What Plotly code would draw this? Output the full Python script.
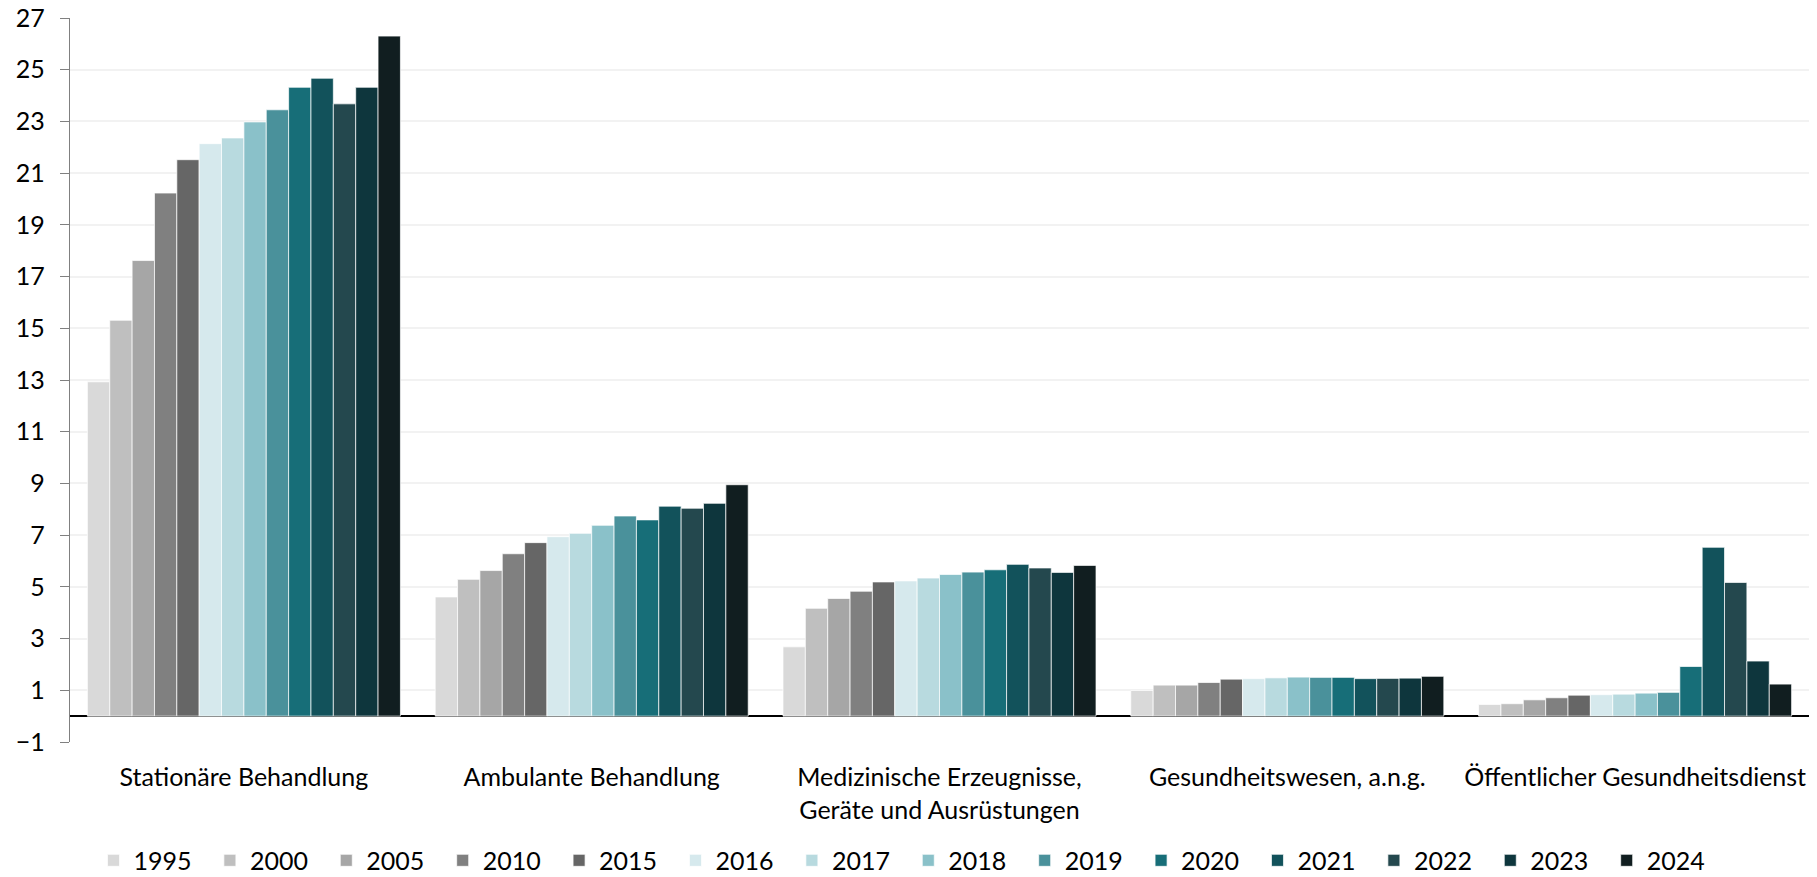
import plotly.graph_objects as go

categories = [
    "Stationäre Behandlung",
    "Ambulante Behandlung",
    "Medizinische Erzeugnisse,<br>Geräte und Ausrüstungen",
    "Gesundheitswesen, a.n.g.",
    "Öffentlicher Gesundheitsdienst",
]

years = ["1995", "2000", "2005", "2010", "2015", "2016", "2017",
         "2018", "2019", "2020", "2021", "2022", "2023", "2024"]

colors = ["#d9d9d9", "#bfbfbf", "#a6a6a6", "#808080", "#666666",
          "#d6e9ed", "#b8dadf", "#8ac1c9", "#4a919b", "#176e78",
          "#12525b", "#24484e", "#0e363d", "#111e20"]

stationaer = [12.93, 15.31, 17.62, 20.23, 21.52, 22.14, 22.36, 22.98, 23.45, 24.32, 24.67, 23.68, 24.32, 26.30]
ambulant = [4.61, 5.29, 5.63, 6.28, 6.71, 6.94, 7.07, 7.38, 7.74, 7.59, 8.12, 8.04, 8.23, 8.95]
medizinisch = [2.68, 4.17, 4.55, 4.83, 5.19, 5.23, 5.34, 5.48, 5.57, 5.66, 5.87, 5.73, 5.56, 5.83]
gesundheitswesen = [0.99, 1.20, 1.20, 1.30, 1.43, 1.45, 1.48, 1.51, 1.50, 1.50, 1.45, 1.46, 1.47, 1.54]
oeffentlich = [0.45, 0.48, 0.63, 0.71, 0.81, 0.83, 0.85, 0.89, 0.92, 1.92, 6.53, 5.17, 2.13, 1.24]

series = [stationaer, ambulant, medizinisch, gesundheitswesen, oeffentlich]

FONT = "Lato"
FS = 25

fig = go.Figure()
for i, (year, color) in enumerate(zip(years, colors)):
    fig.add_trace(go.Bar(
        name=year,
        x=categories,
        y=[s[i] for s in series],
        marker=dict(color=color, line=dict(color="rgba(255,255,255,0.7)", width=1)),
    ))

fig.update_layout(
    width=1817, height=877,
    barmode="group",
    bargap=0.1,
    bargroupgap=0,
    plot_bgcolor="white",
    paper_bgcolor="white",
    margin=dict(l=70, r=8, t=18, b=135, autoexpand=False),
    font=dict(family=FONT, color="#000000", size=FS),
    legend=dict(
        orientation="h",
        x=0.0135, xanchor="left",
        y=-0.132, yanchor="top",
        entrywidth=71.4,
        font=dict(family=FONT, size=FS, color="#000000"),
        itemwidth=30,
        traceorder="normal",
    ),
    xaxis=dict(
        showline=False,
        showgrid=False,
        ticks="",
        tickfont=dict(family=FONT, size=FS, color="#000000"),
        ticklabelstandoff=18,
    ),
    yaxis=dict(
        range=[-1, 27],
        tick0=-1, dtick=2,
        showgrid=True,
        gridcolor="#f2f2f2",
        gridwidth=2,
        showline=True,
        linecolor="#808080",
        linewidth=1.3,
        ticks="outside",
        ticklen=9,
        tickcolor="#808080",
        tickwidth=1.3,
        zeroline=True,
        zerolinecolor="#000000",
        zerolinewidth=1.5,
        tickfont=dict(family=FONT, size=FS, color="#000000"),
        ticklabelstandoff=10,
    ),
)

fig.write_html("out.html")
